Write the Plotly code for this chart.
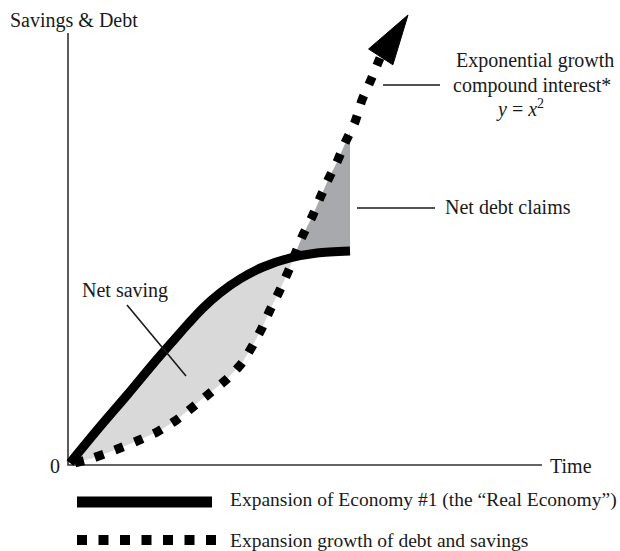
import numpy as np
import plotly.graph_objects as go

# ---- data (time offset, value) ----
real_time = [2, 30, 60, 85, 105, 120, 135, 152, 172, 195, 222, 249, 282]
real_value = [2, 36, 71, 101, 124, 141, 157, 172, 186, 198, 207, 212, 214]

debt_time = [7, 25, 47, 69, 89, 107, 125, 142, 159, 174, 185, 194, 202, 211, 220,
             234, 244, 252, 260, 269, 277, 287, 294, 302, 312, 340]
debt_value = [2, 7, 15, 24, 33, 44, 58, 72, 86, 102, 120, 137, 155, 173, 193,
              228, 248, 267, 285, 303, 322, 343, 365, 383, 407, 450]

legend_labels = ["Expansion of Economy #1 (the “Real Economy”)",
                 "Expansion growth of debt and savings"]

FONT = "Liberation Serif"
INK = "#1a1a1a"

rx, ry = np.array(real_time, float), np.array(real_value, float)
dx, dy = np.array(debt_time, float), np.array(debt_value, float)

# crossing point of the two curves
grid = np.linspace(120, rx[-1], 2000)
diff = np.interp(grid, dx, dy) - np.interp(grid, rx, ry)
i = np.where(np.sign(diff[:-1]) != np.sign(diff[1:]))[0][0]
xc = grid[i]
yc = np.interp(xc, rx, ry)
x_end = rx[-1]

# net saving polygon
ns_x = list(rx[rx < xc]) + [xc] + list(dx[dx < xc][::-1])
ns_y = list(ry[rx < xc]) + [yc] + list(dy[dx < xc][::-1])
# net debt polygon
m = (dx > xc) & (dx < x_end)
nd_x = [xc] + list(dx[m]) + [x_end] + list(rx[rx > xc][::-1])
nd_y = [yc] + list(dy[m]) + [np.interp(x_end, dx, dy)] + list(ry[rx > xc][::-1])

fig = go.Figure()
fig.add_trace(go.Scatter(x=ns_x, y=ns_y, fill="toself", fillcolor="#d9d9d9",
                         line=dict(width=0), mode="lines", hoverinfo="skip"))
fig.add_trace(go.Scatter(x=nd_x, y=nd_y, fill="toself", fillcolor="#a7a9ac",
                         line=dict(width=0), mode="lines", hoverinfo="skip"))

# axes
fig.add_trace(go.Scatter(x=[0, 0, 474], y=[432, 0, 0], mode="lines",
                         line=dict(color="#333", width=1.6), hoverinfo="skip"))

# dotted debt curve (up to the arrow)
fig.add_trace(go.Scatter(x=dx[:-1], y=dy[:-1], mode="lines",
                         line=dict(color="black", width=9, dash="9px,12px", shape="spline", smoothing=0.6),
                         hoverinfo="skip"))
# arrowhead pointing to the last debt point
tip = np.array([dx[-1], dy[-1]])
prev = np.array([dx[-2], dy[-2]])
u = (tip - prev) / np.linalg.norm(tip - prev)
p = np.array([-u[1], u[0]])
L, W = 50, 29
base = tip - u * L
tri = np.array([tip, base + p * W / 2, base - p * W / 2, tip])
fig.add_trace(go.Scatter(x=tri[:, 0], y=tri[:, 1], fill="toself", fillcolor="black",
                         mode="lines", line=dict(color="black", width=1), hoverinfo="skip"))

# solid real economy curve
fig.add_trace(go.Scatter(x=rx, y=ry, mode="lines",
                         line=dict(color="black", width=9, shape="spline", smoothing=0.8),
                         hoverinfo="skip"))

# pointer lines
for (x0, y0, x1, y1) in [(315, 380, 372, 380), (289, 257, 367, 257), (59, 160, 118, 89)]:
    fig.add_shape(type="line", x0=x0, y0=y0, x1=x1, y1=y1, xref="x", yref="y",
                  line=dict(color=INK, width=1.6))

# legend samples
fig.add_trace(go.Scatter(x=[9, 144], y=[-37, -37], mode="lines",
                         line=dict(color="black", width=11), hoverinfo="skip"))
fig.add_trace(go.Scatter(x=[9, 148], y=[-75, -75], mode="lines",
                         line=dict(color="black", width=10, dash="10px,11.5px"), hoverinfo="skip"))

def note(text, x, y, anchor="left", size=20):
    fig.add_annotation(text=text, x=x, y=y, xref="x", yref="y", showarrow=False,
                       xanchor=anchor, yanchor="middle",
                       font=dict(family=FONT, size=size, color=INK))

note("Savings &amp; Debt", -60, 445)
note("0", -13, -1, "center")
note("Time", 480, -1)
note("Exponential growth", 467, 405, "center")
note("compound interest*", 464, 380, "center")
note("<i>y</i> = <i>x</i><sup>2</sup>", 452, 357, "center")
note("Net debt claims", 375, 258)
note("Net saving", 57, 175, "center")
note(legend_labels[0], 160, -35, size=19.5)
note(legend_labels[1], 160, -75, size=19.5)

fig.update_layout(
    width=620, height=551, margin=dict(l=0, r=0, t=0, b=0),
    paper_bgcolor="white", plot_bgcolor="white", showlegend=False,
    xaxis=dict(range=[-68, 552], visible=False, fixedrange=True),
    yaxis=dict(range=[-86, 465], visible=False, fixedrange=True),
)
fig.write_html("out.html", config={"displayModeBar": False},
               post_script="document.body.style.margin='0';document.body.style.overflow='hidden';")
